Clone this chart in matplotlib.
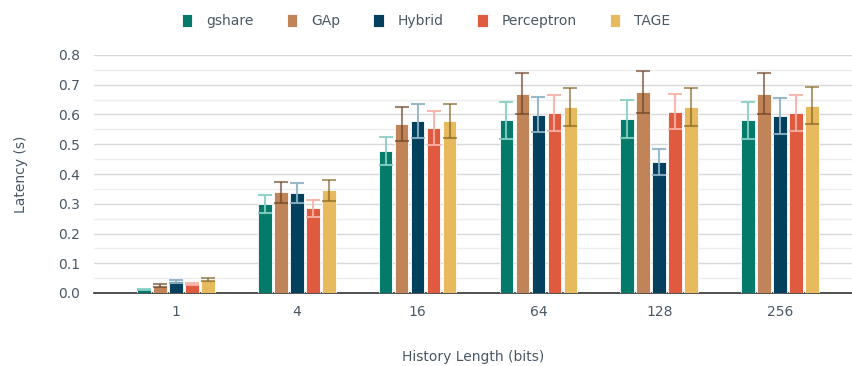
import matplotlib
matplotlib.use("Agg")
import matplotlib.pyplot as plt
import numpy as np
from matplotlib.ticker import MultipleLocator

categories = ["1", "4", "16", "64", "128", "256"]
series_names = ["gshare", "GAp", "Hybrid", "Perceptron", "TAGE"]
gshare = [0.012, 0.300, 0.478, 0.580, 0.585, 0.580]
gap = [0.025, 0.338, 0.568, 0.670, 0.675, 0.670]
hybrid = [0.040, 0.335, 0.578, 0.600, 0.440, 0.595]
perceptron = [0.030, 0.285, 0.555, 0.605, 0.610, 0.605]
tage = [0.045, 0.345, 0.578, 0.625, 0.625, 0.630]
gshare_err = [0.003, 0.030, 0.048, 0.062, 0.063, 0.062]
gap_err = [0.004, 0.034, 0.057, 0.070, 0.070, 0.070]
hybrid_err = [0.005, 0.034, 0.058, 0.060, 0.045, 0.060]
perceptron_err = [0.004, 0.028, 0.056, 0.060, 0.060, 0.060]
tage_err = [0.005, 0.035, 0.058, 0.063, 0.065, 0.063]

values = [gshare, gap, hybrid, perceptron, tage]
errors = [gshare_err, gap_err, hybrid_err, perceptron_err, tage_err]
colors = ["#037a6a", "#c08458", "#02405e", "#e05a40", "#e8ba5e"]
err_colors = [("#86d0c4", 0.9), ("#6a4226", 0.65), ("#8fb3c6", 0.9),
              ("#f7b2a6", 0.9), ("#7a5e18", 0.6)]

text_color = "#4a5866"
plt.rcParams["font.family"] = ["DejaVu Sans"]

fig = plt.figure(figsize=(8.52, 3.66), dpi=100)
ax = fig.add_axes([94 / 852, 1 - 293 / 366, (852 - 94) / 852, (293 - 55) / 366 ])

x = np.arange(len(categories))
step = 0.1325
width = 0.112
for i, (name, vals, errs) in enumerate(zip(series_names, values, errors)):
    pos = x + (i - 2) * step
    ax.bar(pos, vals, width=width, color=colors[i], edgecolor="white",
           linewidth=0.6, label=name, zorder=3)
    ec, ea = err_colors[i]
    ax.errorbar(pos, vals, yerr=errs, fmt="none", ecolor=ec, alpha=ea,
                elinewidth=1.5, capsize=4.8, capthick=1.5, zorder=4)

ax.set_xlim(-0.679, 5.596)
ax.set_ylim(0, 0.8)
ax.yaxis.set_major_locator(MultipleLocator(0.1))
ax.yaxis.set_minor_locator(MultipleLocator(0.05))
ax.set_yticks(np.arange(0, 0.81, 0.1))
ax.set_yticklabels([f"{v:.1f}" for v in np.arange(0, 0.81, 0.1)])
ax.set_xticks(x)
ax.set_xticklabels(categories)
ax.grid(axis="y", which="major", color="#d8d8d8", linewidth=1.0, zorder=0)
ax.grid(axis="y", which="minor", color="#ececec", linewidth=1.0, zorder=0)
ax.set_axisbelow(True)
for s in ["top", "right", "left"]:
    ax.spines[s].set_visible(False)
ax.spines["bottom"].set_color("#333333")
ax.spines["bottom"].set_linewidth(1.2)
ax.tick_params(axis="both", which="both", length=0, colors=text_color, labelsize=10)
ax.tick_params(axis="y", pad=10)
ax.tick_params(axis="x", pad=9)
ax.set_xlabel("History Length (bits)", color=text_color, fontsize=10, labelpad=22)
ax.set_ylabel("Latency (s)", color=text_color, fontsize=10, labelpad=22)

leg = fig.legend(loc="upper center", bbox_to_anchor=(0.5, 0.995), ncol=5,
                 frameon=False, fontsize=10, handlelength=0.75, handleheight=1.0,
                 columnspacing=2.4, handletextpad=1.0, labelcolor=text_color)

fig.savefig("out.png", dpi=100)
